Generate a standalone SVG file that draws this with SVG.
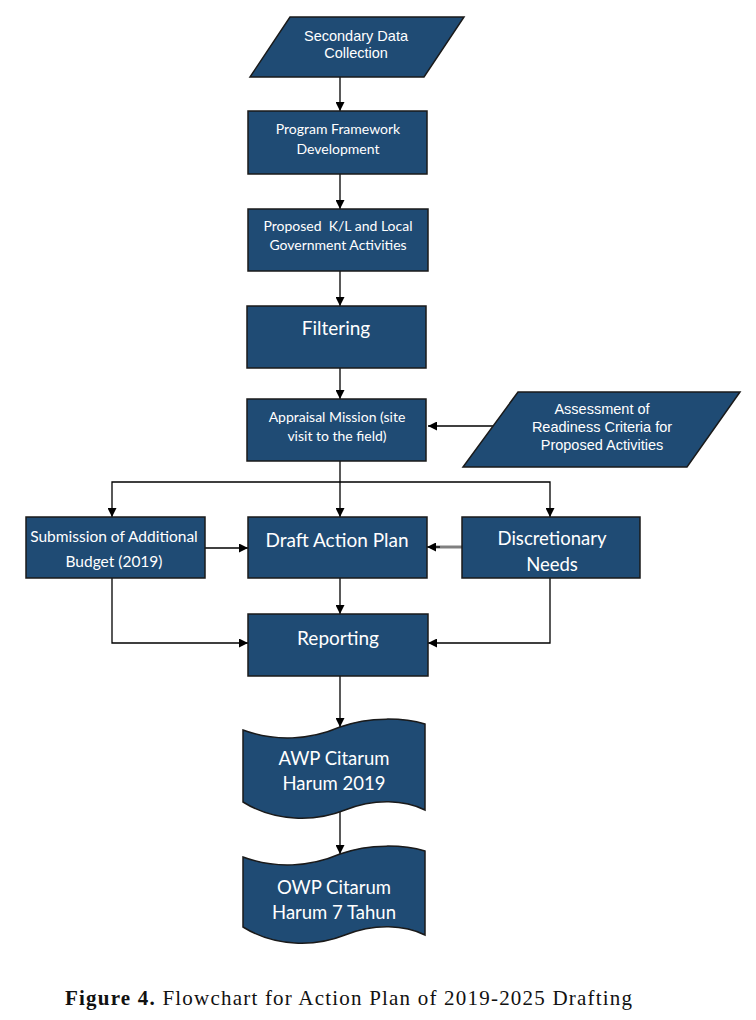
<svg xmlns="http://www.w3.org/2000/svg" width="756" height="1020" viewBox="0 0 756 1020">
<defs>
<marker id="ah" viewBox="0 0 10 10" refX="10" refY="5" markerWidth="9" markerHeight="9" markerUnits="userSpaceOnUse" orient="auto">
<path d="M0,0 L10,5 L0,10 Z" fill="#000"/>
</marker>
<style>
.n{fill:#1F4B74;stroke:#1a1a1a;stroke-width:1.5}
.t{fill:#fff;font-family:Lato,"Open Sans",sans-serif;text-anchor:middle}
.a{fill:#fff;font-family:"Liberation Sans",Arial,sans-serif;text-anchor:middle;font-size:14.5px}
.c{fill:none;stroke:#000;stroke-width:1.3;marker-end:url(#ah)}
.cap{font-family:"Liberation Serif","Times New Roman",serif;font-size:21px;fill:#111}
</style>
</defs>
<rect width="756" height="1020" fill="#fff"/>
<g id="connectors">
<path class="c" d="M340,77 V111"/>
<path class="c" d="M340,174 V209"/>
<path class="c" d="M340,271 V306"/>
<path class="c" d="M340,368 V399"/>
<path class="c" d="M493,426 H428"/>
<path class="c" d="M340,461 V517"/>
<path class="c" d="M340,482 H112 V517"/>
<path class="c" d="M340,482 H550 V517"/>
<path class="c" d="M205,548 H248"/>
<path d="M462,547 H436" fill="none" stroke="#808080" stroke-width="3"/>
<path class="c" d="M440,547 H427"/>
<path class="c" d="M340,578 V614"/>
<path class="c" d="M112,578 V643 H248"/>
<path class="c" d="M550,578 V643 H428"/>
<path class="c" d="M340,676 V727"/>
<path class="c" d="M340,812 V854"/>
</g>
<g id="secondary">
<polygon class="n" points="290,17 464,17 424,77 250,77"/>
<text class="a" x="356" y="41">Secondary Data</text>
<text class="a" x="356" y="58">Collection</text>
</g>
<g id="framework">
<rect class="n" x="248" y="111" width="179" height="63"/>
<text class="t" x="338" y="134" font-size="14">Program Framework</text>
<text class="t" x="338" y="154" font-size="14">Development</text>
</g>
<g id="proposed">
<rect class="n" x="248" y="209" width="180" height="62"/>
<text class="t" x="338" y="231" font-size="14" xml:space="preserve">Proposed  K/L and Local</text>
<text class="t" x="338" y="250" font-size="14">Government Activities</text>
</g>
<g id="filtering">
<rect class="n" x="247" y="306" width="179" height="62"/>
<text class="t" x="336" y="335" font-size="19">Filtering</text>
</g>
<g id="appraisal">
<rect class="n" x="247" y="399" width="179" height="62"/>
<text class="t" x="337" y="422" font-size="14">Appraisal Mission (site</text>
<text class="t" x="337" y="441" font-size="14">visit to the field)</text>
</g>
<g id="assessment">
<polygon class="n" points="518,392 740,392 687,467 463,467"/>
<text class="a" x="602" y="414">Assessment of</text>
<text class="a" x="602" y="432">Readiness Criteria for</text>
<text class="a" x="602" y="450">Proposed Activities</text>
</g>
<g id="submission">
<rect class="n" x="26" y="517" width="179" height="61"/>
<text class="t" x="114" y="542" font-size="15.5">Submission of Additional</text>
<text class="t" x="114" y="567" font-size="15.5">Budget (2019)</text>
</g>
<g id="draft">
<rect class="n" x="248" y="517" width="179" height="61"/>
<text class="t" x="337" y="547" font-size="19">Draft Action Plan</text>
</g>
<g id="discretionary">
<rect class="n" x="462" y="517" width="178" height="61"/>
<text class="t" x="552" y="545" font-size="18.5">Discretionary</text>
<text class="t" x="552" y="571" font-size="18.5">Needs</text>
</g>
<g id="reporting">
<rect class="n" x="248" y="614" width="180" height="62"/>
<text class="t" x="338" y="645" font-size="19">Reporting</text>
</g>
<g id="awp">
<path class="n" d="M243,730 C275,742 310,740 340,727 C370,716 405,718 425,724 L425,810 C405,800 375,798 345,810 C315,822 275,822 243,802 Z"/>
<text class="t" x="334" y="765" font-size="18.5">AWP Citarum</text>
<text class="t" x="334" y="790" font-size="18.5">Harum 2019</text>
</g>
<g id="owp">
<path class="n" d="M243,857 C275,869 310,867 340,854 C370,843 405,845 425,851 L425,935 C405,925 375,923 345,935 C315,947 275,947 243,927 Z"/>
<text class="t" x="334" y="894" font-size="18.5">OWP Citarum</text>
<text class="t" x="334" y="919" font-size="18.5">Harum 7 Tahun</text>
</g>
<text class="cap" x="65" y="1005" textLength="567" lengthAdjust="spacing"><tspan font-weight="bold">Figure 4.</tspan> Flowchart for Action Plan of 2019-2025 Drafting</text>
</svg>
